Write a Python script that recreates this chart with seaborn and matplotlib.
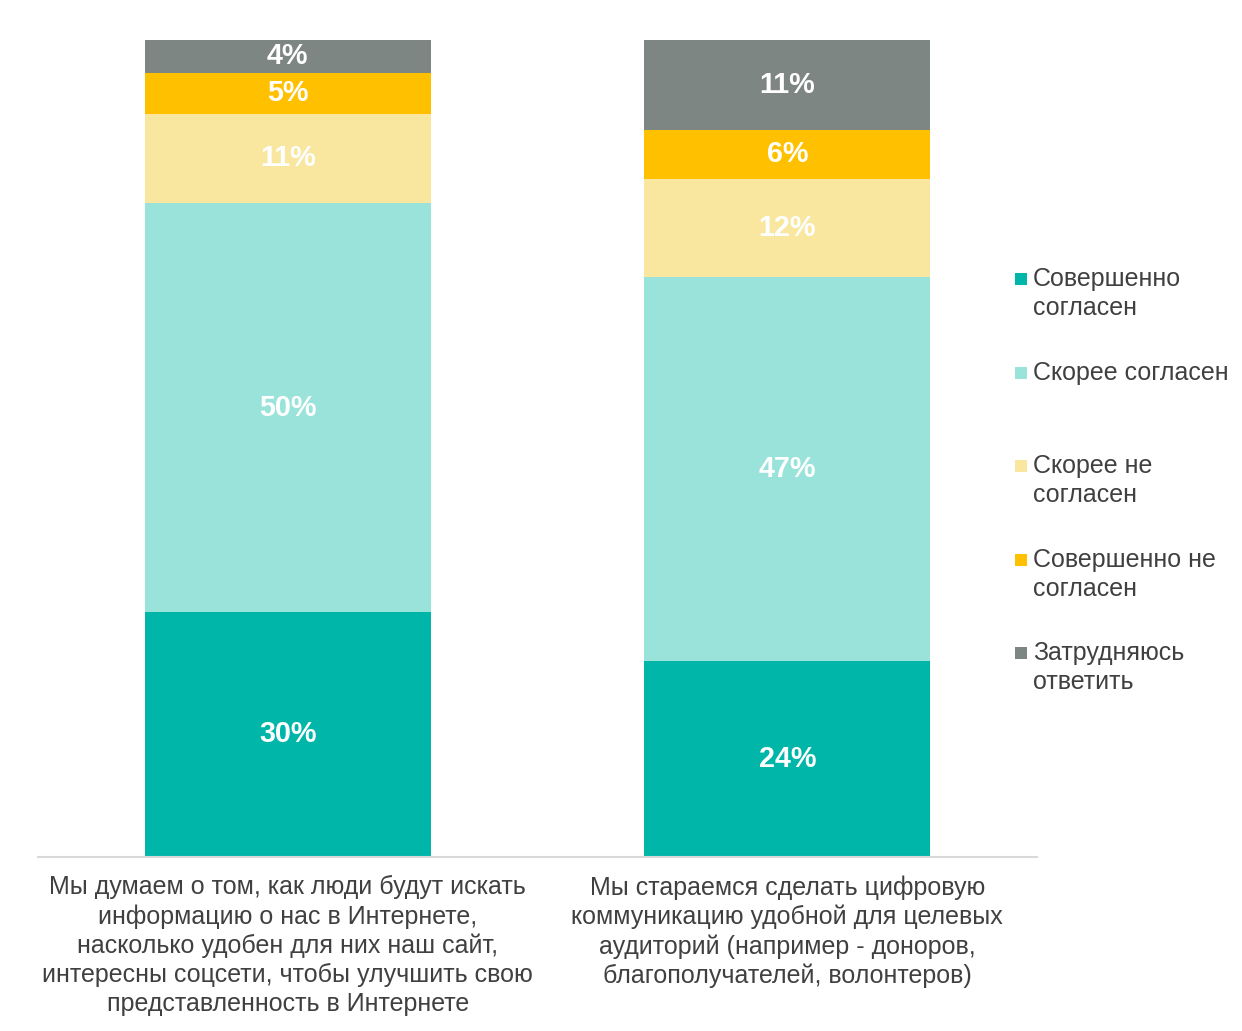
import numpy as np
import pandas as pd
import matplotlib
matplotlib.use("Agg")
import matplotlib.pyplot as plt
from matplotlib.patches import Rectangle
import seaborn as sns

questions = [
    "Мы думаем о том, как люди будут искать\nинформацию о нас в Интернете,\nнасколько удобен для них наш сайт,\nинтересны соцсети, чтобы улучшить свою\nпредставленность в Интернете",
    "Мы стараемся сделать цифровую\nкоммуникацию удобной для целевых\nаудиторий (например - доноров,\nблагополучателей, волонтеров)",
]
segments = ["Совершенно согласен", "Скорее согласен", "Скорее не согласен",
            "Совершенно не согласен", "Затрудняюсь ответить"]
legend_labels = ["Совершенно\nсогласен", "Скорее согласен", "Скорее не\nсогласен",
                 "Совершенно не\nсогласен", "Затрудняюсь\nответить"]
colors = ["#00B6A9", "#99E3DB", "#F9E79F", "#FFC000", "#7E8684"]
values_q1 = [30, 50, 11, 5, 4]
values_q2 = [24, 47, 12, 6, 11]

sns.set_theme(style="white")
plt.rcParams['font.family'] = ['Liberation Sans', 'DejaVu Sans']

df = pd.DataFrame({
    "question": [questions[0]] * 5 + [questions[1]] * 5,
    "segment": segments * 2,
    "value": values_q1 + values_q2,
})
df["top"] = df.groupby("question")["value"].cumsum()

W, H = 1242, 1031
fig = plt.figure(figsize=(W / 100, H / 100), dpi=100)
ax = fig.add_axes([38 / W, (H - 857) / H, (1037 - 38) / W, (857 - 40) / H])

# stacked bars: draw cumulative totals from the top segment down
for seg, col in reversed(list(zip(segments, colors))):
    sub = df[df["segment"] == seg]
    sns.barplot(data=sub, x="question", y="top", order=questions, color=col,
                saturation=1, width=0.572, errorbar=None, linewidth=0, ax=ax)

for _, row in df.iterrows():
    xi = questions.index(row["question"])
    ax.text(xi, row["top"] - row["value"] / 2, f"{row['value']}%", ha="center", va="center",
            color="white", fontsize=20.7, fontweight="bold")

ax.set_xlim(-0.5, 1.5)
ax.set_ylim(0, 100)
ax.set_xlabel("")
ax.set_ylabel("")
ax.set_yticks([])
for s in ["top", "right", "left"]:
    ax.spines[s].set_visible(False)
ax.spines["bottom"].set_color("#D9D9D9")
ax.spines["bottom"].set_linewidth(1.5)
ax.tick_params(axis="x", length=0, pad=13, labelsize=18, labelcolor="#404040")
for lbl in ax.get_xticklabels():
    lbl.set_linespacing(1.26)

# legend
legend_y = [279, 373, 466, 560, 653]
for lab, col, yc in zip(legend_labels, colors, legend_y):
    fig.add_artist(Rectangle((1015 / W, (H - yc - 6) / H), 12 / W, 12 / H,
                             transform=fig.transFigure, color=col, lw=0))
    fig.text(1033 / W, (H - yc + 12) / H, lab, ha="left", va="top", fontsize=18,
             color="#404040", linespacing=1.26)

fig.savefig("out.png", dpi=100)
